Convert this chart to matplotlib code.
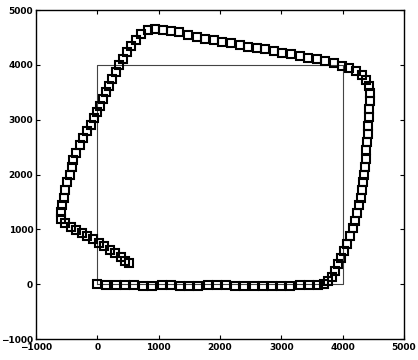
import matplotlib.pyplot as plt

# square reference path
box_x = [0, 4000, 4000, 0, 0]
box_y = [0, 0, 4000, 4000, 0]

path_x = [0, 150, 300, 450, 600, 750, 900, 1050, 1200, 1350, 1500, 1650, 1800,
          1950, 2100, 2250, 2400, 2550, 2700, 2850, 3000, 3150, 3300, 3450, 3600,
          3700, 3770, 3830, 3880, 3930, 3980, 4030, 4080, 4130, 4170, 4210, 4240,
          4270, 4300, 4320, 4340, 4350, 4370, 4380, 4390, 4400, 4410, 4420, 4430,
          4440, 4450, 4450, 4430, 4380, 4310, 4220, 4110, 3990, 3860, 3720, 3580,
          3440, 3300, 3160, 3020, 2880, 2740, 2600, 2460, 2320, 2180, 2040, 1900,
          1760, 1620, 1480, 1340, 1200, 1070, 940, 820, 720, 630, 550, 480, 420,
          360, 300, 240, 190, 150, 100, 50, 0, -50, -110, -170, -230, -290, -350,
          -390, -420, -450, -490, -520, -550, -580, -600, -590, -520, -430, -340,
          -250, -160, -70, 20, 110, 200, 290, 380, 460, 510]
path_y = [0, -10, -20, -20, -20, -30, -30, -20, -20, -30, -30, -30, -20,
          -20, -20, -30, -30, -30, -30, -30, -30, -30, -20, -10, -10,
          10, 60, 140, 240, 360, 480, 610, 740, 880, 1020, 1160, 1300,
          1440, 1580, 1720, 1860, 2000, 2140, 2290, 2440, 2590, 2740, 2890, 3040,
          3190, 3340, 3480, 3610, 3720, 3810, 3880, 3940, 3980, 4030, 4070, 4100,
          4130, 4160, 4190, 4220, 4250, 4280, 4305, 4330, 4360, 4390, 4420, 4445,
          4470, 4510, 4550, 4590, 4620, 4640, 4650, 4630, 4560, 4460, 4350, 4230, 4110,
          3990, 3870, 3750, 3620, 3500, 3370, 3250, 3140, 3030, 2910, 2790, 2660, 2530, 2400,
          2270, 2140, 2000, 1860, 1720, 1580, 1440, 1310, 1190, 1110, 1040, 990,
          940, 880, 820, 750, 690, 620, 560, 490, 430, 380]

ticks = [-1000, 0, 1000, 2000, 3000, 4000, 5000]

fig = plt.figure(figsize=(4.18, 3.60), dpi=100)
ax = fig.add_axes([0.0861, 0.0583, 0.880, 0.9139])

ax.plot(box_x, box_y, color='#444444', linewidth=0.8)
ax.plot(path_x, path_y, linestyle='none', marker='s', markersize=6,
        markerfacecolor='none', markeredgecolor='black', markeredgewidth=1.5)

ax.set_xlim(-1000, 5000)
ax.set_ylim(-1000, 5000)
ax.set_xticks(ticks)
ax.set_yticks(ticks)
ax.tick_params(direction='in', top=True, right=True, length=3, width=0.8)
ax.tick_params(axis='x', pad=3)
ax.tick_params(axis='y', pad=2)
for lab in ax.get_xticklabels() + ax.get_yticklabels():
    lab.set_family(['Liberation Sans Narrow', 'DejaVu Sans Condensed', 'DejaVu Sans'])
    lab.set_fontweight('bold')
    lab.set_fontsize(6.5)
for sp in ax.spines.values():
    sp.set_linewidth(1.0)

fig.savefig('out.png', dpi=100)
